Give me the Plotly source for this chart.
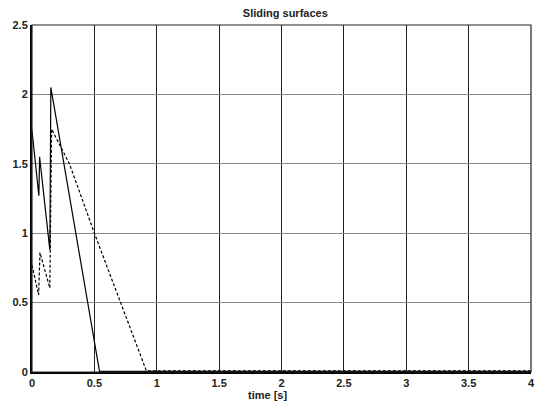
import plotly.graph_objects as go

# Solid sliding surface
t_s1 = [0.0, 0.055, 0.061, 0.143, 0.151, 0.255, 0.35, 0.445, 0.541, 0.6, 1.0, 2.0, 3.0, 4.0]
s1 = [1.74, 1.27, 1.55, 0.88, 2.05, 1.5, 1.0, 0.5, 0.005, 0.005, 0.005, 0.005, 0.005, 0.005]

# Dashed sliding surface
t_s2 = [0.0, 0.053, 0.064, 0.143, 0.157, 0.30, 0.50, 0.713, 0.917, 1.0, 2.0, 3.0, 4.0]
s2 = [0.77, 0.555, 0.86, 0.605, 1.75, 1.5, 1.0, 0.496, 0.008, 0.008, 0.008, 0.008, 0.008]

x_ticks = [0, 0.5, 1, 1.5, 2, 2.5, 3, 3.5, 4]
x_tick_labels = ["0", "0.5", "1", "1.5", "2", "2.5", "3", "3.5", "4"]
y_ticks = [0, 0.5, 1, 1.5, 2, 2.5]
y_tick_labels = ["0", "0.5", "1", "1.5", "2", "2.5"]

FONT = "Liberation Sans, Arial, sans-serif"

fig = go.Figure()
fig.add_trace(go.Scatter(x=t_s1, y=s1, mode="lines",
                         line=dict(color="black", width=1.2), showlegend=False))
fig.add_trace(go.Scatter(x=t_s2, y=s2, mode="lines",
                         line=dict(color="black", width=1.2, dash="3px,2px"), showlegend=False))

fig.update_layout(
    width=542, height=406,
    margin=dict(l=32, r=7, t=25, b=34),
    paper_bgcolor="white", plot_bgcolor="white",
    font=dict(family=FONT, size=11, color="black"),
    title=dict(text="<b>Sliding surfaces</b>", x=(285.3) / 542, xanchor="center",
               y=1 - 13.5 / 406, yanchor="middle",
               font=dict(family=FONT, size=11, color="#222")),
    xaxis=dict(range=[0, 4], tickvals=x_ticks, ticktext=["<b>%s</b>" % s for s in x_tick_labels],
               showgrid=True, gridcolor="#222", gridwidth=1,
               zeroline=False, showline=True, linecolor="black", linewidth=2,
               ticks="", tickfont=dict(family=FONT, size=11, color="#222")),
    yaxis=dict(range=[0, 2.5], tickvals=y_ticks, ticktext=["<b>%s</b>" % s for s in y_tick_labels],
               showgrid=True, gridcolor="#888", gridwidth=1.2,
               zeroline=False, showline=True, linecolor="black", linewidth=2,
               ticks="", tickfont=dict(family=FONT, size=11, color="#222")),
    shapes=[dict(type="rect", xref="paper", yref="paper", x0=0, y0=0, x1=1, y1=1,
                 line=dict(color="#222", width=1.2))],
    annotations=[dict(text="<b>time [s]</b>", xref="paper", yref="paper",
                      x=(269 - 32) / 503, y=-(395 - 372) / 347, xanchor="center", yanchor="middle",
                      showarrow=False, font=dict(family=FONT, size=11, color="#222"))],
)

fig.write_html("out.html")
